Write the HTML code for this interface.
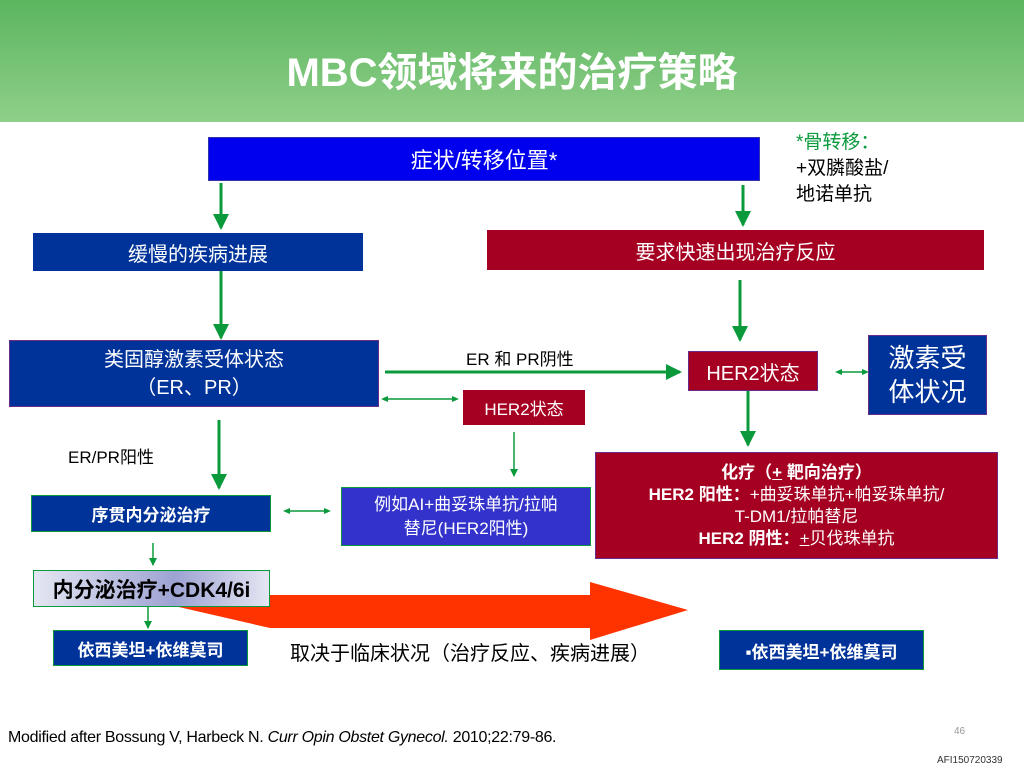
<!DOCTYPE html>
<html><head><meta charset="utf-8"><style>
body{margin:0;width:1024px;height:768px;position:relative;background:#fff;font-family:"Liberation Sans","Noto Sans CJK SC",sans-serif;overflow:hidden}
.b{position:absolute;display:flex;align-items:center;justify-content:center;text-align:center;color:#fff;box-sizing:border-box}
.t{position:absolute;white-space:nowrap}
</style></head><body>
<div style="position:absolute;left:0;top:0;width:1024px;height:122px;background:linear-gradient(#5bb55f,#8fcf8a)"></div>
<div class="t" style="left:0;width:1024px;top:40px;text-align:center;color:#fff;font-size:40px;font-weight:bold">MBC领域将来的治疗策略</div>
<svg style="position:absolute;left:0;top:0" width="1024" height="768">
<defs><marker id="a" markerWidth="8" markerHeight="8" refX="7" refY="4" orient="auto" markerUnits="userSpaceOnUse"><path d="M0,0L8,4L0,8z" fill="#0a9a3c"/></marker>
<marker id="s" markerWidth="8" markerHeight="8" refX="4" refY="4" orient="auto-start-reverse" markerUnits="userSpaceOnUse"><path d="M0,1L7,4L0,7z" fill="#0a9a3c"/></marker>
<marker id="big" markerWidth="16" markerHeight="16" refX="14" refY="8" orient="auto" markerUnits="userSpaceOnUse"><path d="M0,0L16,8L0,16z" fill="#0a9a3c"/></marker></defs>
<polygon points="150,595 590,595 590,582 688,610 590,640 590,628 270,628 170,605" fill="#ff3300"/>
<g stroke="#0a9a3c" stroke-width="3" fill="none">
<line x1="221" y1="183" x2="221" y2="228" marker-end="url(#big)"/>
<line x1="743" y1="185" x2="743" y2="225" marker-end="url(#big)"/>
<line x1="221" y1="271" x2="221" y2="338" marker-end="url(#big)"/>
<line x1="740" y1="280" x2="740" y2="340" marker-end="url(#big)"/>
<line x1="385" y1="372" x2="680" y2="372" marker-end="url(#big)"/>
<line x1="748" y1="390" x2="748" y2="445" marker-end="url(#big)"/>
<line x1="219" y1="420" x2="219" y2="488" marker-end="url(#big)"/>
</g>
<g stroke="#0a9a3c" stroke-width="1.5" fill="none">
<line x1="384" y1="399" x2="456" y2="399" marker-start="url(#s)" marker-end="url(#s)"/>
<line x1="838" y1="372" x2="866" y2="372" marker-start="url(#s)" marker-end="url(#s)"/>
<line x1="286" y1="511" x2="328" y2="511" marker-start="url(#s)" marker-end="url(#s)"/>
<line x1="514" y1="432" x2="514" y2="476" marker-end="url(#a)"/>
<line x1="153" y1="543" x2="153" y2="565" marker-end="url(#a)"/>
<line x1="148" y1="605" x2="148" y2="628" marker-end="url(#a)"/>
</g></svg>
<div class="b" style="left:208px;top:137px;width:552px;height:44px;background:#0000ee;border:1px solid #3333aa;font-size:22px">症状/转移位置*</div>
<div class="t" style="left:796px;top:130px;font-size:19px;line-height:26px;color:#000"><span style="color:#0a9a3c">*骨转移：</span><br>+双膦酸盐/<br>地诺单抗</div>
<div class="b" style="left:33px;top:233px;width:330px;height:38px;background:#003399;font-size:20px">缓慢的疾病进展</div>
<div class="b" style="left:487px;top:230px;width:497px;height:40px;background:#a50021;font-size:20px">要求快速出现治疗反应</div>
<div class="b" style="left:9px;top:340px;width:370px;height:67px;background:#003399;border:1px solid #6a2a8a;font-size:20px;line-height:28px">类固醇激素受体状态<br>（ER、PR）</div>
<div class="t" style="left:466px;top:345px;font-size:17px">ER 和 PR阴性</div>
<div class="b" style="left:688px;top:351px;width:130px;height:40px;background:#a50021;border:1px solid #6a2a8a;font-size:20px">HER2状态</div>
<div class="b" style="left:868px;top:335px;width:119px;height:80px;background:#003399;border:1px solid #6a2a8a;font-size:26px;line-height:34px">激素受<br>体状况</div>
<div class="b" style="left:463px;top:390px;width:122px;height:35px;background:#a50021;font-size:17px">HER2状态</div>
<div class="t" style="left:68px;top:443px;font-size:17px">ER/PR阳性</div>
<div class="b" style="left:595px;top:452px;width:403px;height:107px;background:#a50021;border:1px solid #6a2a8a;font-size:17px;line-height:22px"><div><b>化疗（<u>+</u> 靶向治疗）</b><br><b>HER2 阳性：</b>+曲妥珠单抗+帕妥珠单抗/<br>T-DM1/拉帕替尼<br><b>HER2 阴性：</b><u>+</u>贝伐珠单抗</div></div>
<div class="b" style="left:31px;top:495px;width:240px;height:37px;background:#003399;border:1px solid #0a9a3c;font-size:17px;font-weight:bold">序贯内分泌治疗</div>
<div class="b" style="left:341px;top:487px;width:250px;height:59px;background:#3333cc;border:1px solid #0a9a3c;font-size:17px;line-height:24px">例如AI+曲妥珠单抗/拉帕<br>替尼(HER2阳性)</div>
<div class="b" style="left:33px;top:570px;width:237px;height:37px;background:linear-gradient(90deg,#e4e6f2,#9da3d2 60%,#e4e6f2);border:1px solid #0a9a3c;color:#000;font-size:21px;font-weight:bold">内分泌治疗+CDK4/6i</div>
<div class="b" style="left:53px;top:630px;width:195px;height:36px;background:#003399;border:1px solid #0a9a3c;font-size:17px;font-weight:bold">依西美坦+依维莫司</div>
<div class="t" style="left:290px;top:637px;font-size:20px">取决于临床状况（治疗反应、疾病进展）</div>
<div class="b" style="left:719px;top:630px;width:205px;height:40px;background:#003399;border:1px solid #0a9a3c;font-size:17px;font-weight:bold">▪依西美坦+依维莫司</div>
<div class="t" style="left:8px;top:729px;font-size:16px;letter-spacing:-0.3px">Modified after Bossung V, Harbeck N. <i>Curr Opin Obstet Gynecol.</i> 2010;22:79-86.</div>
<div class="t" style="left:954px;top:726px;font-size:10px;color:#999">46</div>
<div class="t" style="left:937px;top:755px;font-size:10px;color:#333">AFI150720339</div>
</body></html>
